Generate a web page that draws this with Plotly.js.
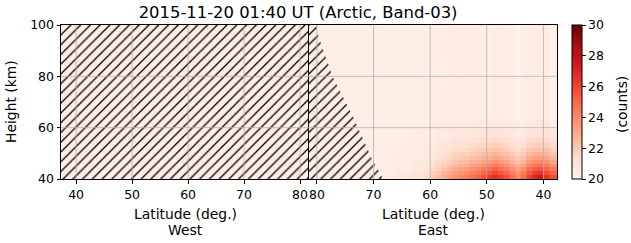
<!DOCTYPE html>
<html><head><meta charset="utf-8">
<script src="https://cdn.plot.ly/plotly-3.0.1.min.js"></script>
<style>html,body{margin:0;padding:0;background:#fff;}#chart{width:631px;height:243px;}</style>
</head><body><div id="chart"></div>
<script>
// ---- data ----
const heightEdges = [40, 41.5, 43, 44.5, 46, 47.5, 49, 50.5, 52, 54, 56, 59, 63, 100];
const eastLatEdges = [81.5, 75, 70, 66, 63, 61, 60, 59, 58, 57, 56, 55, 54, 53, 52, 51, 50, 49, 48, 47, 46, 45, 44, 43, 42, 41, 40, 39, 38, 37.5];
// one list per latitude column (north to south), values from bottom (40 km) to top
const eastCounts = [
  [20.4,20.4,20.4,20.4,20.4,20.4,20.4,20.4,20.4,20.4,20.4,20.4,20.4],
  [20.5,20.4,20.4,20.4,20.4,20.4,20.4,20.4,20.4,20.4,20.4,20.4,20.4],
  [20.6,20.5,20.5,20.5,20.5,20.4,20.4,20.4,20.4,20.4,20.4,20.4,20.4],
  [20.8,20.7,20.6,20.6,20.6,20.5,20.5,20.5,20.5,20.5,20.4,20.4,20.4],
  [21.0,20.9,20.8,20.7,20.7,20.6,20.6,20.6,20.5,20.5,20.5,20.4,20.4],
  [21.5,21.3,21.1,21.0,20.9,20.8,20.7,20.6,20.6,20.5,20.5,20.5,20.4],
  [21.9,21.7,21.4,21.2,21.1,20.9,20.8,20.7,20.6,20.6,20.5,20.5,20.4],
  [22.4,22.1,21.8,21.6,21.4,21.2,21.0,20.9,20.8,20.7,20.7,20.6,20.5],
  [22.9,22.6,22.2,21.9,21.6,21.4,21.2,21.0,20.9,20.8,20.6,20.5,20.4],
  [23.4,23.0,22.6,22.2,21.9,21.6,21.4,21.2,21.0,20.8,20.7,20.6,20.5],
  [23.8,23.4,23.0,22.6,22.2,21.9,21.6,21.4,21.2,21.0,20.8,20.7,20.6],
  [24.1,23.6,23.2,22.8,22.4,22.0,21.7,21.4,21.2,21.0,20.8,20.6,20.5],
  [24.4,23.9,23.4,22.9,22.5,22.1,21.8,21.5,21.3,21.0,20.8,20.6,20.5],
  [24.8,24.3,23.8,23.2,22.8,22.4,22.0,21.7,21.4,21.1,20.9,20.7,20.6],
  [25.2,24.6,24.0,23.5,23.0,22.5,22.1,21.8,21.5,21.2,20.9,20.7,20.5],
  [25.7,25.1,24.5,23.8,23.3,22.8,22.3,22.0,21.6,21.3,21.0,20.7,20.5],
  [26.2,25.5,24.8,24.1,23.5,22.9,22.5,22.1,21.7,21.3,21.0,20.7,20.4],
  [26.7,26.0,25.2,24.5,23.8,23.2,22.7,22.3,21.9,21.5,21.1,20.9,20.6],
  [26.3,25.6,24.9,24.2,23.5,23.0,22.5,22.1,21.7,21.3,21.0,20.8,20.5],
  [25.7,25.1,24.4,23.8,23.2,22.7,22.3,21.9,21.6,21.3,20.9,20.7,20.5],
  [24.8,24.3,23.7,23.2,22.7,22.3,21.9,21.6,21.3,21.0,20.8,20.6,20.4],
  [24.1,23.6,23.1,22.7,22.2,21.9,21.6,21.3,21.0,20.8,20.5,20.4,20.2],
  [24.9,24.4,23.8,23.2,22.7,22.3,22.0,21.6,21.3,21.0,20.8,20.6,20.4],
  [26.1,25.4,24.8,24.1,23.5,23.0,22.5,22.1,21.7,21.4,21.1,20.8,20.6],
  [27.0,26.2,25.4,24.6,23.9,23.3,22.8,22.3,21.9,21.5,21.1,20.8,20.5],
  [27.4,26.5,25.6,24.8,24.1,23.4,22.9,22.4,21.9,21.5,21.1,20.8,20.5],
  [26.6,25.9,25.1,24.4,23.7,23.2,22.7,22.3,21.8,21.5,21.1,20.9,20.6],
  [25.9,25.2,24.5,23.8,23.2,22.7,22.2,21.8,21.4,21.1,20.8,20.5,20.3],
  [25.8,25.1,24.5,23.8,23.2,22.7,22.3,21.9,21.5,21.2,20.9,20.7,20.5]
];
const westLatEdges = [37.3, 50, 65, 81.6];
const westHeightEdges = [40, 100];
const westCounts = [[20.4, 20.4, 20.4]];
// no-data (hatched) regions
const hatchWestLat = [37.3, 81.6, 81.6, 37.3, 37.3];
const hatchWestHeight = [40, 40, 100, 100, 40];
const hatchEastLat = [81.5, 80.1, 79.8, 77.2, 73.6, 70.2, 68.3, 81.5, 81.5];
const hatchEastHeight = [100, 100, 96, 79.7, 64.2, 47.4, 40, 40, 100];
const westTicks = [40, 50, 60, 70, 80];
const eastTicks = [80, 70, 60, 50, 40];
const heightTicks = [40, 60, 80, 100];
const heightGrid = [60, 80];
const countTicks = [20, 22, 24, 26, 28, 30];
const titleText = '2015-11-20 01:40 UT (Arctic, Band-03)';

// ---- style ----
const FONT = 'DejaVu Sans, Liberation Sans, sans-serif';
const reds = [[0,'#fff5f0'],[0.125,'#fee0d2'],[0.25,'#fcbba1'],[0.375,'#fc9272'],[0.5,'#fb6a4a'],[0.625,'#ef3b2c'],[0.75,'#cb181d'],[0.875,'#a50f15'],[1,'#67000d']];
const pattern = {shape:'/', fgcolor:'#000000', bgcolor:'rgba(0,0,0,0)', size:6.9, solidity:0.19};

const traces = [
  {type:'heatmap', x:westLatEdges, y:westHeightEdges, z:westCounts, coloraxis:'coloraxis', xaxis:'x', yaxis:'y', zsmooth:false, hoverinfo:'skip'},
  {type:'heatmap', x:eastLatEdges, y:heightEdges, z:eastCounts, transpose:true, coloraxis:'coloraxis', xaxis:'x2', yaxis:'y2', zsmooth:false, hoverinfo:'skip'},
  {type:'scatter', mode:'lines', x:hatchWestLat, y:hatchWestHeight, fill:'toself', fillcolor:'rgba(0,0,0,0)', fillpattern:pattern, line:{width:0, color:'rgba(0,0,0,0)'}, xaxis:'x', yaxis:'y', showlegend:false, hoverinfo:'skip'},
  {type:'scatter', mode:'lines', x:hatchEastLat, y:hatchEastHeight, fill:'toself', fillcolor:'rgba(0,0,0,0)', fillpattern:pattern, line:{width:0, color:'rgba(0,0,0,0)'}, xaxis:'x2', yaxis:'y2', showlegend:false, hoverinfo:'skip'}
];

const tickFont = {family:FONT, size:12.5, color:'#000'};
const labelFont = {family:FONT, size:13.9, color:'#000'};
const axBase = {ticks:'outside', ticklen:3.5, tickwidth:1, tickcolor:'#000', showline:true, mirror:true, linecolor:'#000', linewidth:1, showgrid:false, zeroline:false, tickfont:tickFont, fixedrange:true, layer:'above traces'};

const shapes = [];
const gridLine = {color:'#b0b0b0', width:0.8};
westTicks.forEach(v => shapes.push({type:'line', xref:'x', yref:'y domain', x0:v, x1:v, y0:0, y1:1, line:gridLine, layer:'above'}));
eastTicks.forEach(v => shapes.push({type:'line', xref:'x2', yref:'y2 domain', x0:v, x1:v, y0:0, y1:1, line:gridLine, layer:'above'}));
heightGrid.forEach(v => {
  shapes.push({type:'line', xref:'x domain', yref:'y', x0:0, x1:1, y0:v, y1:v, line:gridLine, layer:'above'});
  shapes.push({type:'line', xref:'x2 domain', yref:'y2', x0:0, x1:1, y0:v, y1:v, line:gridLine, layer:'above'});
});

const layout = {
  width:631, height:243,
  margin:{l:61, r:74, t:25, b:64, pad:0},
  paper_bgcolor:'#fff', plot_bgcolor:'#fff',
  font:{family:FONT, color:'#000'},
  showlegend:false,
  title:{text:titleText, font:{family:FONT, size:16.4, color:'#000'}, x:0.478, xref:'paper', xanchor:'center', y:0.9506, yref:'container', yanchor:'middle'},
  xaxis:Object.assign({}, axBase, {domain:[0,0.5], range:[37.3,81.6], anchor:'y', tickmode:'array', tickvals:westTicks, ticktext:westTicks.map(String)}),
  xaxis2:Object.assign({}, axBase, {domain:[0.5,1], range:[81.4,37.6], anchor:'y2', tickmode:'array', tickvals:eastTicks, ticktext:eastTicks.map(String)}),
  yaxis:Object.assign({}, axBase, {domain:[0,1], range:[40,100], anchor:'x', tickmode:'array', tickvals:heightTicks, ticktext:heightTicks.map(String)}),
  yaxis2:Object.assign({}, axBase, {domain:[0,1], range:[40,100], anchor:'x2', ticks:'', showticklabels:false}),
  coloraxis:{cmin:20, cmax:30, colorscale:reds, colorbar:{
    x:1.0302, xref:'paper', xanchor:'left', xpad:0, y:0.5, yref:'paper', yanchor:'middle', ypad:0,
    len:1, lenmode:'fraction', thickness:10, thicknessmode:'pixels',
    outlinecolor:'#000', outlinewidth:1, ticks:'outside', ticklen:3.5, tickcolor:'#000',
    tickmode:'array', tickvals:countTicks, ticktext:countTicks.map(String), tickfont:tickFont}},
  shapes:shapes,
  annotations:[
    {text:'Height (km)', xref:'paper', yref:'paper', x:-0.1008, y:0.5, xanchor:'center', yanchor:'middle', textangle:-90, showarrow:false, font:labelFont},
    {text:'Latitude (deg.)', xref:'paper', yref:'paper', x:0.25, y:-0.2273, xanchor:'center', yanchor:'middle', showarrow:false, font:labelFont},
    {text:'West', xref:'paper', yref:'paper', x:0.25, y:-0.3344, xanchor:'center', yanchor:'middle', showarrow:false, font:labelFont},
    {text:'Latitude (deg.)', xref:'paper', yref:'paper', x:0.75, y:-0.2273, xanchor:'center', yanchor:'middle', showarrow:false, font:labelFont},
    {text:'East', xref:'paper', yref:'paper', x:0.75, y:-0.3344, xanchor:'center', yanchor:'middle', showarrow:false, font:labelFont},
    {text:'(counts)', xref:'paper', yref:'paper', x:1.131, y:0.487, xanchor:'center', yanchor:'middle', textangle:-90, showarrow:false, font:labelFont}
  ]
};

Plotly.newPlot('chart', traces, layout, {staticPlot:true, displayModeBar:false});
</script>
</body></html>
